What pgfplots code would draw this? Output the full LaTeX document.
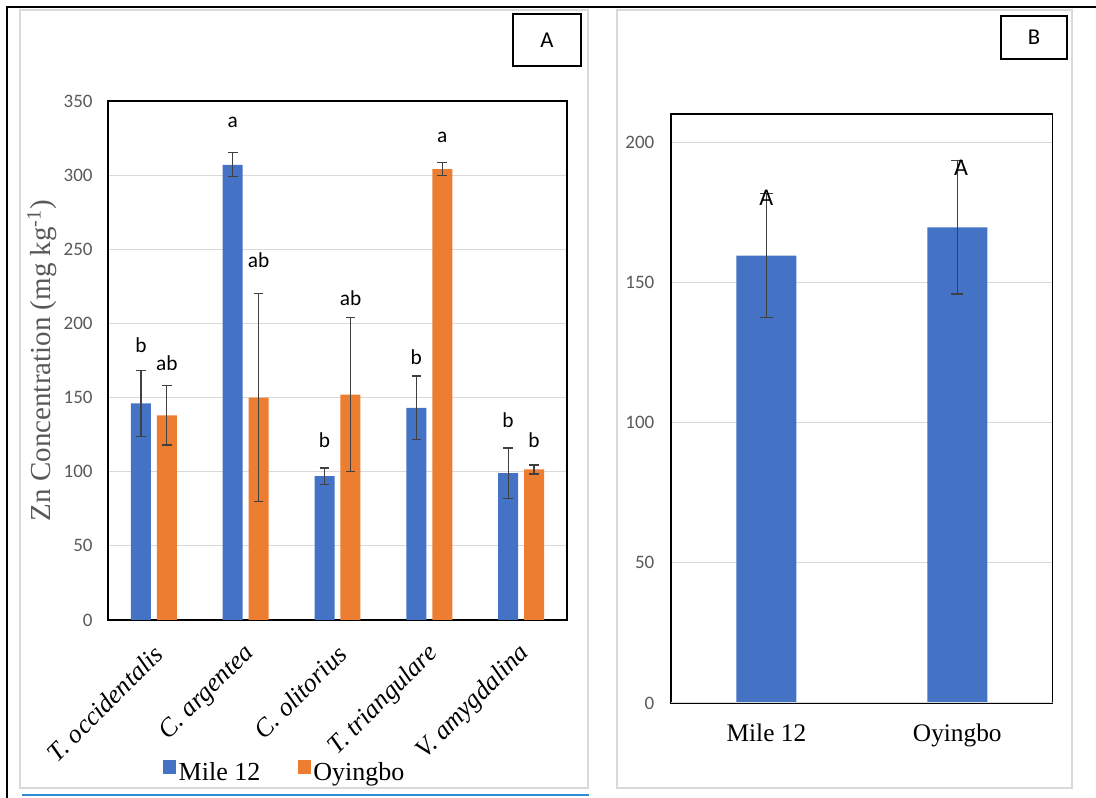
\documentclass[border=0pt]{standalone}
\usepackage{fontspec}
\setmainfont{Carlito}
\newfontfamily\serif{Liberation Serif}
\usepackage{pgfplots}
\usepackage{pgfplotstable}
\pgfplotsset{compat=1.18}
\definecolor{mile}{HTML}{4472C4}
\definecolor{oyi}{HTML}{ED7D31}
\definecolor{gridc}{HTML}{D9D9D9}
\definecolor{tickc}{HTML}{595959}
\definecolor{errc}{HTML}{404040}
\definecolor{bline}{HTML}{2E8BD6}

% Panel A data: bar position (category index -/+ offset), mean, error
\pgfplotstableread{
x y e
-0.1416 146 22
0.8584 307 8
1.8584 97 5.5
2.8584 143 21.5
3.8584 99 17
}\mileA
\pgfplotstableread{
x y e
0.1416 138 20
1.1416 150 70
2.1416 152 52
3.1416 304 4.5
4.1416 101.5 3
}\oyiA
\pgfplotstableread{
x y lab
-0.1416 185.4 b
0.1416 173.3 ab
0.8584 335.8 a
1.1416 242.8 ab
1.8584 121.4 b
2.1416 217.1 ab
2.8584 177.4 b
3.1416 325.7 a
3.8584 134.9 b
4.1416 121.4 b
}\letA
% Panel B data
\pgfplotstableread{
x y e
0 159.5 22.2
1 169.6 23.8
}\siteB
\pgfplotstableread{
x y lab
0 180 A
1.02 190.7 A
}\letB

\begin{document}
\begin{tikzpicture}[x=0.75pt,y=0.75pt]
\useasboundingbox (0,0) rectangle (1096,798);
% frames
\draw[gridc, line width=1.1pt] (20,10) rectangle (588,788);
\draw[gridc, line width=1.1pt] (617,10) rectangle (1072,788);
\draw[black, line width=1.5pt] (7,0) -- (7,791) -- (1096,791);
\draw[bline, line width=1.5pt] (22,3) -- (589,3);

% Panel A
\begin{axis}[
  at={(81pt,133.5pt)}, anchor=south west, scale only axis,
  width=344.25pt, height=389.25pt,
  xmin=-0.5, xmax=4.5, ymin=0, ymax=350,
  xtick={0,1,2,3,4},
  xticklabels={T. occidentalis, C. argentea, C. olitorius, T. triangulare, V. amygdalina},
  ytick={0,50,...,350},
  ymajorgrids, grid style={gridc, line width=0.8pt},
  major tick length=0pt,
  axis line style={black, line width=1.1pt},
  /pgf/number format/assume math mode=true,
  yticklabel style={font=\fontsize{14.25}{16}\selectfont, text=tickc, xshift=-8pt},
  xticklabel style={font=\serif\itshape\fontsize{19.5}{21}\selectfont, text=black, xshift=6pt, yshift=-20pt, rotate=45, anchor=east},
  every axis y label/.style={at={(axis description cs:-0.1438,0.5)}, rotate=90, anchor=center},
  ylabel={\serif\fontsize{21.75}{24}\selectfont\color{tickc}Zn Concentration (mg kg\textsuperscript{-1})},
  legend columns=2,
  legend style={at={(0.3856,-0.2929)}, anchor=center, draw=none, fill=none,
    font=\serif\fontsize{19.5}{22}\selectfont,
    /tikz/every even column/.append style={column sep=26pt}},
  legend image code/.code={\fill[#1] (0pt,-1.5pt) rectangle (9.75pt,9pt);},
]
\addplot[ybar, bar width=15pt, bar shift=0pt, fill=mile, draw=none,
  error bars/.cd, y dir=both, y explicit,
  error bar style={errc, line width=0.9pt},
  error mark options={rotate=90, errc, line width=0.9pt, mark size=3.6pt}]
  table[x=x, y=y, y error=e] {\mileA};
\addplot[ybar, bar width=15pt, bar shift=0pt, fill=oyi, draw=none,
  error bars/.cd, y dir=both, y explicit,
  error bar style={errc, line width=0.9pt},
  error mark options={rotate=90, errc, line width=0.9pt, mark size=3.6pt}]
  table[x=x, y=y, y error=e] {\oyiA};
\addplot[forget plot, only marks, mark=*, mark size=0pt, mark options={draw=none, fill=none},
  nodes near coords, point meta=explicit symbolic,
  nodes near coords style={anchor=center, text=black, font=\fontsize{16}{18}\selectfont}]
  table[x=x, y=y, meta=lab] {\letA};
\legend{Mile 12, Oyingbo}
\end{axis}

% Panel B
\begin{axis}[
  at={(503.25pt,71.25pt)}, anchor=south west, scale only axis,
  width=286.3pt, height=441.75pt,
  xmin=-0.5, xmax=1.5, ymin=0, ymax=210,
  xtick={0,1}, xticklabels={Mile 12, Oyingbo},
  ytick={0,50,...,200},
  ymajorgrids, grid style={gridc, line width=0.8pt},
  major tick length=0pt,
  axis line style={black, line width=1.1pt},
  /pgf/number format/assume math mode=true,
  yticklabel style={font=\fontsize{14.25}{16}\selectfont, text=tickc, xshift=-9pt},
  xticklabel style={font=\serif\fontsize{19}{21}\selectfont, text=black, yshift=-12pt},
]
\addplot[ybar, bar width=45pt, bar shift=0pt, fill=mile, draw=none,
  error bars/.cd, y dir=both, y explicit,
  error bar style={errc, line width=0.9pt},
  error mark options={rotate=90, errc, line width=0.9pt, mark size=4.6pt}]
  table[x=x, y=y, y error=e] {\siteB};
\addplot[forget plot, only marks, mark=*, mark size=0pt, mark options={draw=none, fill=none},
  nodes near coords, point meta=explicit symbolic,
  nodes near coords style={anchor=center, text=black, font=\fontsize{18}{20}\selectfont}]
  table[x=x, y=y, meta=lab] {\letB};
\draw[gridc, line width=1.1pt] (rel axis cs:0,0) -- (rel axis cs:1,0);
\end{axis}

% panel tags
\draw[black, line width=1.1pt] (513,732) rectangle (581,784);
\node[font=\fontsize{17}{19}\selectfont] at (547,758) {A};
\draw[black, line width=1.1pt] (1001,739) rectangle (1067,782);
\node[font=\fontsize{17}{19}\selectfont] at (1034,760.5) {B};
\end{tikzpicture}
\end{document}
